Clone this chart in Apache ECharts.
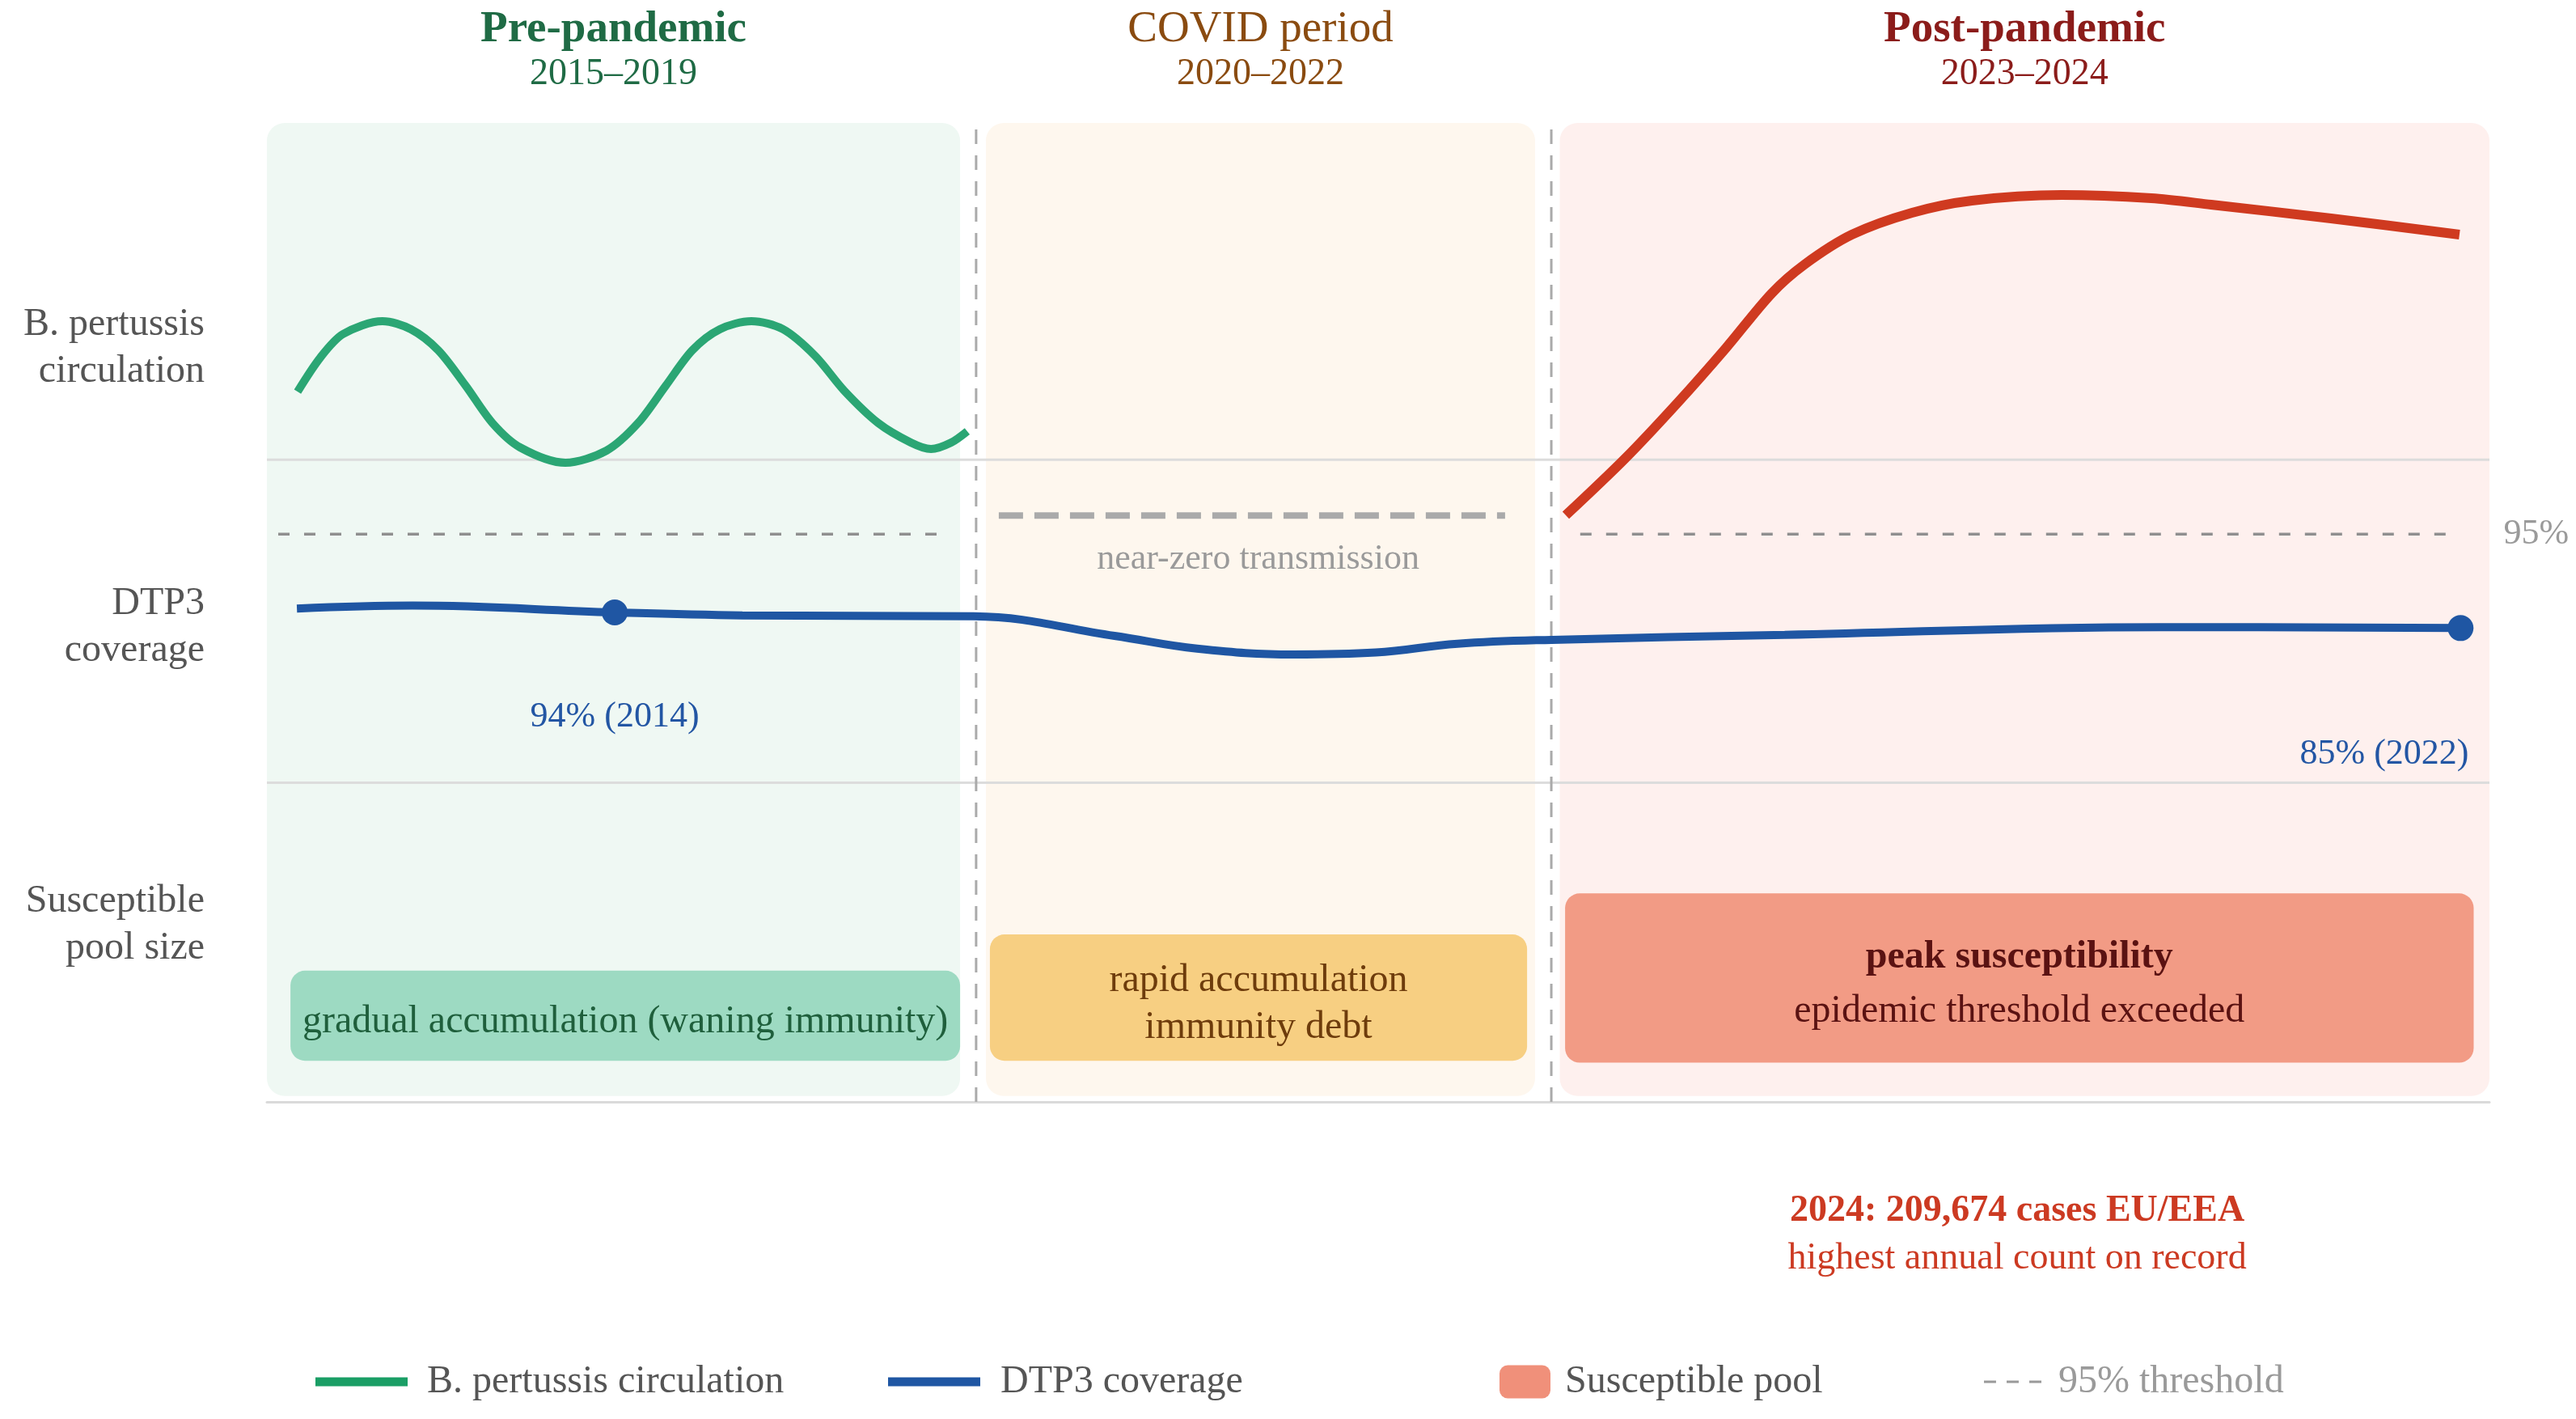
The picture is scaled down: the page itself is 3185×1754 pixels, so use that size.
<!DOCTYPE html>
<html>
<head>
<meta charset="utf-8">
<script src="https://cdn.jsdelivr.net/npm/echarts@6/dist/echarts.min.js"></script>
<style>
  html, body { margin: 0; padding: 0; background: #ffffff; }
  #chart { width: 3185px; height: 1754px; }
</style>
</head>
<body>
<div id="chart"></div>
<script>
// ---------- data (schematic timeline position 0-100, schematic level 0-100) ----------
const periodNames = ['Pre-pandemic', 'COVID period', 'Post-pandemic'];
const periodYears = ['2015–2019', '2020–2022', '2023–2024'];
const periodStart = [0, 32.35, 58.17];
const periodEnd = [31.19, 57.06, 100];
const dividerX = [31.91, 57.79];
const rowBoundY = [65.6, 32.6];
const rowLabels = ['B. pertussis\ncirculation', 'DTP3\ncoverage', 'Susceptible\npool size'];
const rowLabelY = [77.0, 48.5, 18.1];

const circPreX = [1.38, 2.40, 3.42, 5.20, 6.48, 7.71, 8.95, 10.15, 11.39, 13.43, 15.28, 16.70, 17.94,
                  19.14, 20.38, 21.80, 23.22, 24.67, 25.98, 27.51, 28.97, 29.88, 30.79, 31.51];
const circPreY = [72.56, 76.03, 78.43, 79.75, 78.93, 76.78, 73.14, 69.34, 66.86, 65.29, 66.53, 69.34, 73.14,
                  76.78, 78.93, 79.75, 78.93, 76.20, 72.64, 69.34, 67.36, 66.69, 67.36, 68.51];

const nearZeroX = [32.93, 55.71];
const nearZeroY = [59.9, 59.9];

const circPostX = [58.44, 61.10, 63.50, 65.65, 67.69, 69.18, 71.32, 74.02, 76.71, 80.75, 84.79, 87.48, 92.87, 98.65];
const circPostY = [59.92, 65.70, 71.49, 77.02, 82.56, 85.54, 88.60, 90.83, 92.07, 92.64, 92.31, 91.65, 90.25, 88.60];

const dtp3X = [1.35, 6.55, 15.65, 21.40, 31.80, 38.14, 41.85, 46.22, 49.89, 53.57, 57.79, 68.29, 85.19, 98.70];
const dtp3Y = [50.4, 50.7, 50.0, 49.7, 49.6, 47.6, 46.3, 45.7, 45.9, 46.8, 47.2, 47.7, 48.5, 48.4];
const dtp3MarkIdx = [2, 13];

const thresholdPreX = [0.51, 30.39];
const thresholdPostX = [59.09, 98.45];
const thresholdY = 58.0;
const thresholdLabel = '95%';

const poolStart = [1.06, 32.53, 58.41];
const poolEnd = [31.19, 56.70, 99.29];
const poolBottom = [4.2, 4.2, 4.0];
const poolTop = [13.4, 17.1, 21.3];
const poolLabels = [
  ['gradual accumulation (waning immunity)'],
  ['rapid accumulation', 'immunity debt'],
  ['peak susceptibility', 'epidemic threshold exceeded']
];

const annoText = ['94% (2014)', '85% (2022)', 'near-zero transmission'];
const annoX = [15.65, 99.07, 44.6];
const annoY = [39.3, 35.5, 55.4];

const casesText = ['2024: 209,674 cases EU/EEA', 'highest annual count on record'];
const casesX = [78.75];
const casesY = [-13.6];

const legendNames = ['B. pertussis circulation', 'DTP3 coverage', 'Susceptible pool', '95% threshold'];

// ---------- styles ----------
const FONT = '"Liberation Serif", "Palatino Linotype", Palatino, serif';
const panelFills = ['#eff8f3', '#fef7ee', '#fef0ee'];
const titleColors = ['#1f6b45', '#8a4b10', '#8b1c1a'];
const titleWeights = ['bold', 'normal', 'bold'];
const poolFills = ['#9ddac2', '#f7cf82', '#f29b85'];
const poolTextColors = ['#1f5f3c', '#6e3c0c', '#5a1212'];
const annoColors = ['#2356a4', '#2356a4', '#9a9a9a'];
const annoAlign = ['center', 'right', 'center'];
const GREEN = '#2ba674', BLUE = '#1f56a3', RED = '#cf3a20';

const pts = (xs, ys) => xs.map((x, i) => [x, Array.isArray(ys) ? ys[i] : ys]);

const chart = echarts.init(document.getElementById('chart'), null, { renderer: 'canvas' });

const legendBase = {
  padding: 0, top: 1680, selectedMode: false, orient: 'horizontal',
  textStyle: { fontSize: 48, color: '#555', lineHeight: 56, fontFamily: FONT }
};

const option = {
  animation: false,
  backgroundColor: '#ffffff',
  textStyle: { fontFamily: FONT },
  grid: { left: 330, right: 107, top: 152, bottom: 392 },
  xAxis: {
    type: 'value', min: 0, max: 100,
    axisLine: { show: true, lineStyle: { color: '#dadada', width: 3 } },
    axisTick: { show: false }, axisLabel: { show: false }, splitLine: { show: false }
  },
  yAxis: { type: 'value', min: 0, max: 100, show: false },
  legend: [
    Object.assign({}, legendBase, {
      left: 390, itemWidth: 114, itemHeight: 11,
      data: [{ name: legendNames[0], icon: 'rect', itemStyle: { color: '#1a9e65' } }],
      textStyle: Object.assign({}, legendBase.textStyle, { padding: [0, 0, 0, 19] })
    }),
    Object.assign({}, legendBase, {
      left: 1098, itemWidth: 114, itemHeight: 11,
      data: [{ name: legendNames[1], icon: 'rect', itemStyle: { color: BLUE } }],
      textStyle: Object.assign({}, legendBase.textStyle, { padding: [0, 0, 0, 20] })
    }),
    Object.assign({}, legendBase, {
      left: 1854, itemWidth: 63, itemHeight: 41,
      data: [{ name: legendNames[2], icon: 'roundRect', itemStyle: { color: '#f0907a' } }],
      textStyle: Object.assign({}, legendBase.textStyle, { padding: [0, 0, 0, 13] })
    }),
    Object.assign({}, legendBase, {
      left: 2453, itemWidth: 71, itemHeight: 3,
      data: [{ name: legendNames[3], icon: 'path://M0,0h16v3h-16z M30,0h16v3h-16z M60,0h16v3h-16z',
               itemStyle: { color: '#999' }, textStyle: { color: '#9a9a9a' } }],
      textStyle: Object.assign({}, legendBase.textStyle, { color: '#9a9a9a', padding: [0, 0, 0, 16] })
    })
  ],
  series: [
    // period panels + headers
    {
      type: 'custom', name: 'panels', z: 0, silent: true,
      data: periodNames.map((n, i) => [periodStart[i], periodEnd[i], 0.6, 100]),
      renderItem: function (params, api) {
        const i = params.dataIndex;
        const p0 = api.coord([api.value(0), api.value(3)]);
        const p1 = api.coord([api.value(1), api.value(2)]);
        const cx = (p0[0] + p1[0]) / 2;
        return {
          type: 'group',
          children: [
            { type: 'rect', shape: { x: p0[0], y: p0[1], width: p1[0] - p0[0], height: p1[1] - p0[1], r: 22 },
              style: { fill: panelFills[i] } },
            { type: 'text', style: { text: periodNames[i], x: cx, y: p0[1] - 115, align: 'center', verticalAlign: 'middle',
                fontSize: 55, fontWeight: titleWeights[i], fontFamily: FONT, fill: titleColors[i] } },
            { type: 'text', style: { text: periodYears[i], x: cx, y: p0[1] - 60, align: 'center', verticalAlign: 'middle',
                fontSize: 46, fontFamily: FONT, fill: titleColors[i] } }
          ]
        };
      }
    },
    // row labels
    {
      type: 'custom', name: 'rowLabels', z: 1, silent: true,
      data: rowLabels.map((t, i) => [0, rowLabelY[i]]),
      renderItem: function (params, api) {
        const p = api.coord([api.value(0), api.value(1)]);
        return { type: 'text', style: { text: rowLabels[params.dataIndex], x: p[0] - 77, y: p[1],
          align: 'right', verticalAlign: 'middle', fontSize: 48, lineHeight: 58, fontFamily: FONT, fill: '#555' } };
      }
    },
    // row separators
    ...rowBoundY.map(y => ({
      type: 'line', name: 'rowSep', z: 1, silent: true, symbol: 'none',
      data: pts([0, 100], y),
      lineStyle: { color: '#dcdcdc', width: 3 }
    })),
    // period dividers
    ...dividerX.map(x => ({
      type: 'line', name: 'divider', z: 1, silent: true, symbol: 'none',
      data: [[x, 0], [x, 100]],
      lineStyle: { color: '#aaaaaa', width: 3, type: [18, 14] }
    })),
    // 95% threshold
    {
      type: 'line', name: legendNames[3], z: 2, silent: true, symbol: 'none',
      data: pts(thresholdPreX, thresholdY),
      lineStyle: { color: '#8f8f8f', width: 3.5, type: [14, 18] }, itemStyle: { color: '#999' }
    },
    {
      type: 'line', name: legendNames[3], z: 2, silent: true, symbol: 'none',
      data: pts(thresholdPostX, thresholdY),
      lineStyle: { color: '#8f8f8f', width: 3.5, type: [14, 18] }, itemStyle: { color: '#999' },
      endLabel: { show: true, formatter: thresholdLabel, distance: 60, color: '#9a9a9a', fontSize: 44, fontFamily: FONT }
    },
    // near-zero transmission during COVID
    {
      type: 'line', name: 'near-zero', z: 2, silent: true, symbol: 'none',
      data: pts(nearZeroX, nearZeroY),
      lineStyle: { color: '#aaaaaa', width: 8, type: [30, 14] }
    },
    // susceptible pool boxes
    {
      type: 'custom', name: legendNames[2], z: 2, silent: true,
      itemStyle: { color: '#f0907a' },
      data: poolStart.map((s, i) => [s, poolEnd[i], poolBottom[i], poolTop[i]]),
      renderItem: function (params, api) {
        const i = params.dataIndex;
        const p0 = api.coord([api.value(0), api.value(3)]);
        const p1 = api.coord([api.value(1), api.value(2)]);
        const lines = poolLabels[i];
        let text, rich = {};
        if (i === 2) {
          text = '{b|' + lines[0] + '}\n{n|' + lines[1] + '}';
          rich = {
            b: { fontSize: 48, fontWeight: 'bold', fontFamily: FONT, fill: poolTextColors[i], lineHeight: 66 },
            n: { fontSize: 48, fontFamily: FONT, fill: poolTextColors[i], lineHeight: 66 }
          };
        } else {
          text = lines.join('\n');
        }
        return {
          type: 'group',
          children: [
            { type: 'rect', shape: { x: p0[0], y: p0[1], width: p1[0] - p0[0], height: p1[1] - p0[1], r: 18 },
              style: { fill: poolFills[i] } },
            { type: 'text', style: { text: text, rich: rich, x: (p0[0] + p1[0]) / 2, y: (p0[1] + p1[1]) / 2 + 8,
                align: 'center', verticalAlign: 'middle', fontSize: 48, lineHeight: 58, fontFamily: FONT, fill: poolTextColors[i] } }
          ]
        };
      }
    },
    // B. pertussis circulation (pre-pandemic)
    {
      type: 'line', name: legendNames[0], z: 4, silent: true, symbol: 'none', smooth: 0.3,
      data: pts(circPreX, circPreY),
      lineStyle: { color: GREEN, width: 10 }, itemStyle: { color: GREEN }
    },
    // circulation (post-pandemic resurgence)
    {
      type: 'line', name: 'post-pandemic circulation', z: 4, silent: true, symbol: 'none', smooth: 0.3,
      data: pts(circPostX, circPostY),
      lineStyle: { color: RED, width: 12 }, itemStyle: { color: RED }
    },
    // DTP3 coverage
    {
      type: 'line', name: legendNames[1], z: 4, silent: true, smooth: 0.4,
      symbol: 'circle', symbolSize: 0, showSymbol: true,
      data: dtp3X.map((x, i) => dtp3MarkIdx.indexOf(i) >= 0
        ? { value: [x, dtp3Y[i]], symbol: 'circle', symbolSize: 32 }
        : { value: [x, dtp3Y[i]], symbolSize: 0 }),
      lineStyle: { color: BLUE, width: 10 }, itemStyle: { color: BLUE }
    },
    // annotations
    {
      type: 'custom', name: 'annotations', z: 5, silent: true,
      data: annoText.map((t, i) => [annoX[i], annoY[i]]),
      renderItem: function (params, api) {
        const i = params.dataIndex;
        const p = api.coord([api.value(0), api.value(1)]);
        return { type: 'text', style: { text: annoText[i], x: p[0], y: p[1], align: annoAlign[i], verticalAlign: 'middle',
          fontSize: 44, fontFamily: FONT, fill: annoColors[i] } };
      }
    },
    {
      type: 'custom', name: 'cases', z: 5, silent: true,
      data: casesX.map((x, i) => [x, casesY[i]]),
      renderItem: function (params, api) {
        const p = api.coord([api.value(0), api.value(1)]);
        return { type: 'text', style: {
          text: '{b|' + casesText[0] + '}\n{n|' + casesText[1] + '}',
          x: p[0], y: p[1], align: 'center', verticalAlign: 'middle',
          rich: {
            b: { fontSize: 46, fontWeight: 'bold', fontFamily: FONT, fill: '#cc3a22', lineHeight: 58, align: 'center' },
            n: { fontSize: 46, fontFamily: FONT, fill: '#cc3a22', lineHeight: 58, align: 'center' }
          } } };
      }
    }
  ]
};

chart.setOption(option);
</script>
</body>
</html>
